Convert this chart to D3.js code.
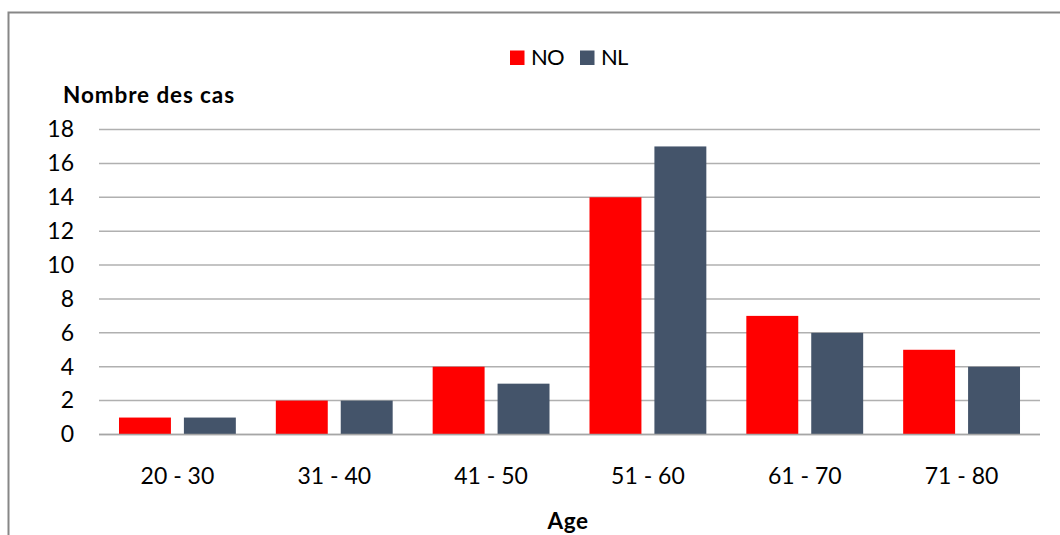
<!DOCTYPE html>
<html>
<head>
<meta charset="utf-8">
<script src="https://cdn.jsdelivr.net/npm/d3@7"></script>
<style>
  html, body { margin: 0; padding: 0; background: #fff; }
  svg { display: block; }
</style>
</head>
<body>
<div id="chart"></div>
<script>
// Tranches d'âge, nombre de cas NO / NL
const categories = ["20 - 30", "31 - 40", "41 - 50", "51 - 60", "61 - 70", "71 - 80"];
const seriesNames = ["NO", "NL"];
const valuesNO = [1, 2, 4, 14, 7, 5];
const valuesNL = [1, 2, 3, 17, 6, 4];
const yTicks = [0, 2, 4, 6, 8, 10, 12, 14, 16, 18];

const W = 1060, H = 535;
const ML = 99, MR = 20, TOP = 129.5, BOT = 100.5;
const FONT = "Lato, Carlito, 'Open Sans', sans-serif";
const COL = { NO: "#ff0000", NL: "#44546a" };

const rows = categories.map((c, i) => ({ cat: c, NO: valuesNO[i], NL: valuesNL[i] }));

const svg = d3.select("#chart").append("svg")
  .attr("width", W).attr("height", H);

// cadre (coupé à droite et en bas)
svg.append("path")
  .attr("d", `M8.5,${H} V12.5 H${W}`)
  .attr("fill", "none").attr("stroke", "#878787").attr("stroke-width", 2);

const x0 = d3.scaleBand().domain(categories).range([ML, W - MR]).paddingInner(0.255).paddingOuter(0.1275);
const x1 = d3.scaleBand().domain(seriesNames).range([0, x0.bandwidth()]).paddingInner(0.2);
const y = d3.scaleLinear().domain([0, 18]).range([H - BOT, TOP]);

// grille
svg.append("g").selectAll("line").data(yTicks).join("line")
  .attr("x1", ML).attr("x2", W - MR)
  .attr("y1", d => y(d)).attr("y2", d => y(d))
  .attr("stroke", "#b0b0b0").attr("stroke-width", 1.5);

// étiquettes Y
svg.append("g").selectAll("text").data(yTicks).join("text")
  .attr("x", 74).attr("y", d => y(d))
  .attr("dy", "0.34em")
  .attr("text-anchor", "end")
  .attr("style", `font:400 23px ${FONT};fill:#000`)
  .text(d => d);

// barres
const g = svg.append("g").selectAll("g").data(rows).join("g")
  .attr("transform", d => `translate(${x0(d.cat)},0)`);
g.selectAll("rect").data(d => seriesNames.map(k => ({ k, v: d[k] }))).join("rect")
  .attr("x", d => x1(d.k))
  .attr("width", x1.bandwidth())
  .attr("y", d => y(d.v))
  .attr("height", d => y(0) - y(d.v))
  .attr("fill", d => COL[d.k]);

// ligne de base
svg.append("line")
  .attr("x1", ML).attr("x2", W - MR)
  .attr("y1", y(0)).attr("y2", y(0))
  .attr("stroke", "#a6a6a6").attr("stroke-width", 1.5);

// étiquettes X
svg.append("g").selectAll("text").data(categories).join("text")
  .attr("x", d => x0(d) + x0.bandwidth() / 2)
  .attr("y", 484)
  .attr("text-anchor", "middle")
  .attr("style", `font:400 23px ${FONT};fill:#000`)
  .text(d => d);

// titres d'axes
svg.append("text").attr("x", 63).attr("y", 103)
  .attr("style", `font:700 22.5px ${FONT};fill:#000;letter-spacing:0.9px`)
  .text("Nombre des cas");
svg.append("text").attr("x", 568).attr("y", 529)
  .attr("text-anchor", "middle")
  .attr("style", `font:700 22.5px ${FONT};fill:#000;letter-spacing:0.6px`)
  .text("Age");

// légende
const lgX = [510, 580];
seriesNames.forEach((k, i) => {
  svg.append("rect").attr("x", lgX[i]).attr("y", 50.5).attr("width", 14.5).attr("height", 14.5)
    .attr("fill", COL[k]);
  svg.append("text").attr("x", lgX[i] + 21).attr("y", 65)
    .attr("style", `font:400 22px ${FONT};fill:#000;letter-spacing:-0.8px`)
    .text(k);
});
</script>
</body>
</html>
